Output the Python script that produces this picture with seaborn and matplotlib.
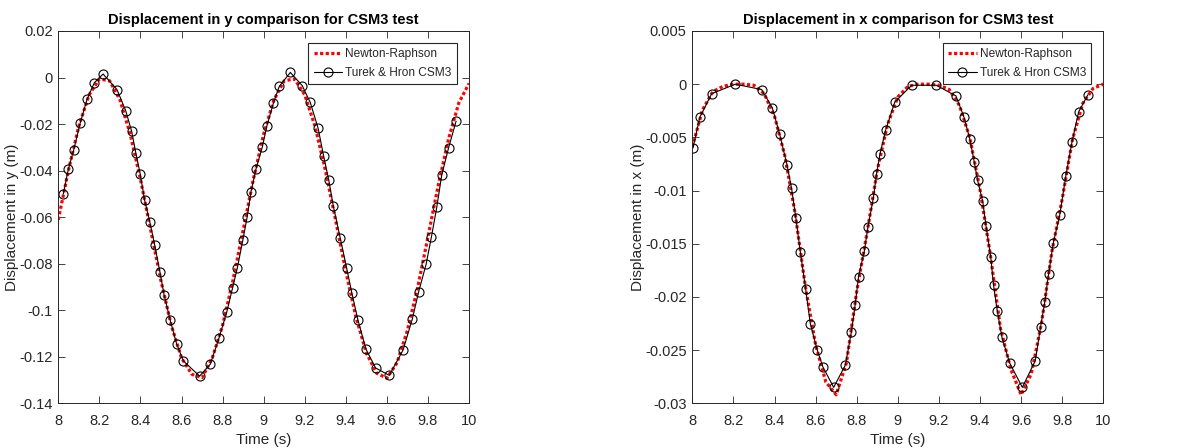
import numpy as np
import pandas as pd
import matplotlib
matplotlib.use("Agg")
import matplotlib.pyplot as plt
import seaborn as sns
from matplotlib.ticker import FuncFormatter, MultipleLocator

# ---------------- data ----------------
t_nr = [8.00, 8.05, 8.10, 8.15, 8.20, 8.25, 8.30, 8.35, 8.40, 8.45,
        8.50, 8.55, 8.60, 8.65, 8.70, 8.75, 8.80, 8.85, 8.90, 8.95,
        9.00, 9.05, 9.10, 9.15, 9.20, 9.25, 9.30, 9.35, 9.40, 9.45,
        9.50, 9.55, 9.60, 9.65, 9.70, 9.75, 9.80, 9.85, 9.90, 9.95, 10.00]

nr_y = [-0.0611, -0.0396, -0.0209, -0.0074, -0.0006, -0.0014, -0.0095, -0.0243, -0.0437, -0.0656,
        -0.0874, -0.1064, -0.1205, -0.1275, -0.1290, -0.1205, -0.1065, -0.0874, -0.0656, -0.0437,
        -0.0243, -0.0096, -0.0014, -0.0006, -0.0074, -0.0209, -0.0396, -0.0611, -0.0833, -0.1031,
        -0.1184, -0.1270, -0.1292, -0.1225, -0.1087, -0.0902, -0.0686, -0.0464, -0.0265, -0.0110, -0.0025]

nr_x = [-0.0059, -0.0024, -0.0007, -0.0002, 0.0000, 0.0000, -0.0001, -0.0009, -0.0030, -0.0067,
        -0.0121, -0.0190, -0.0245, -0.0280, -0.0292, -0.0262, -0.0195, -0.0140, -0.0081, -0.0038,
        -0.0012, -0.0002, 0.0000, 0.0000, -0.0001, -0.0005, -0.0020, -0.0050, -0.0099, -0.0160,
        -0.0230, -0.0268, -0.0292, -0.0272, -0.0224, -0.0157, -0.0108, -0.0052, -0.0018, -0.0004, 0.0000]

t_th_y = [8.024, 8.049, 8.075, 8.107, 8.140, 8.175, 8.218, 8.286, 8.328, 8.357,
          8.378, 8.399, 8.420, 8.446, 8.469, 8.495, 8.515, 8.545, 8.576, 8.609,
          8.688, 8.740, 8.782, 8.820, 8.849, 8.872, 8.899, 8.920, 8.938, 8.963,
          8.994, 9.015, 9.047, 9.076, 9.130, 9.188, 9.227, 9.265, 9.292, 9.317,
          9.339, 9.373, 9.404, 9.429, 9.459, 9.498, 9.545, 9.612, 9.679, 9.724,
          9.755, 9.791, 9.817, 9.843, 9.867, 9.901, 9.937]
th_y = [-0.0502, -0.0394, -0.0311, -0.0194, -0.0094, -0.0023, 0.0015, -0.0052, -0.0142, -0.0230,
        -0.0326, -0.0415, -0.0526, -0.0622, -0.0718, -0.0837, -0.0933, -0.1043, -0.1144, -0.1218,
        -0.1283, -0.1232, -0.1121, -0.1009, -0.0903, -0.0818, -0.0697, -0.0598, -0.0492, -0.0392,
        -0.0297, -0.0210, -0.0111, -0.0038, 0.0022, -0.0035, -0.0107, -0.0217, -0.0337, -0.0440,
        -0.0552, -0.0690, -0.0818, -0.0924, -0.1042, -0.1167, -0.1248, -0.1280, -0.1171, -0.1038,
        -0.0920, -0.0803, -0.0685, -0.0558, -0.0420, -0.0301, -0.0188]

t_th_x = [8.003, 8.037, 8.094, 8.209, 8.337, 8.389, 8.425, 8.461, 8.483, 8.504,
          8.526, 8.552, 8.574, 8.608, 8.636, 8.688, 8.745, 8.774, 8.792, 8.809,
          8.837, 8.855, 8.881, 8.897, 8.913, 8.941, 8.985, 9.067, 9.187, 9.283,
          9.322, 9.351, 9.372, 9.388, 9.413, 9.429, 9.452, 9.466, 9.484, 9.507,
          9.544, 9.606, 9.669, 9.695, 9.715, 9.734, 9.757, 9.788, 9.818, 9.848,
          9.880, 9.925]
th_x = [-0.0060, -0.0031, -0.0009, 0.0000, -0.0005, -0.0022, -0.0047, -0.0076, -0.0098, -0.0126,
        -0.0158, -0.0193, -0.0225, -0.0250, -0.0266, -0.0285, -0.0264, -0.0233, -0.0208, -0.0181,
        -0.0157, -0.0134, -0.0107, -0.0084, -0.0066, -0.0043, -0.0017, -0.0001, -0.0001, -0.0011,
        -0.0031, -0.0052, -0.0073, -0.0090, -0.0110, -0.0133, -0.0162, -0.0189, -0.0213, -0.0238,
        -0.0262, -0.0285, -0.0260, -0.0228, -0.0205, -0.0178, -0.0149, -0.0123, -0.0086, -0.0054,
        -0.0026, -0.0010]

titles = ["Displacement in y comparison for CSM3 test",
          "Displacement in x comparison for CSM3 test"]
ylabels = ["Displacement in y (m)", "Displacement in x (m)"]
xlabel = "Time (s)"
legend_labels = ["Newton-Raphson", "Turek & Hron CSM3"]

# ---------------- style ----------------
sns.set_theme(style="white")
plt.rcParams["font.family"] = ["Liberation Sans", "DejaVu Sans"]
plt.rcParams["axes.unicode_minus"] = False

W, H = 1188, 448
fig = plt.figure(figsize=(W / 100, H / 100), dpi=100)
ax_specs = [
    (58.3 / W, 1 - 403.3 / H, 410.7 / W, 372.3 / H),
    (692.3 / W, 1 - 403.3 / H, 411.0 / W, 372.3 / H),
]
panels = [
    (nr_y, t_th_y, th_y, (-0.14, 0.02), 0.02),
    (nr_x, t_th_x, th_x, (-0.03, 0.005), 0.005),
]
gray = "#262626"


def fmt(v, pos):
    if abs(v) < 1e-12:
        return "0"
    return f"{round(v, 8):g}"


for i, (nr, tt, th, ylim, ystep) in enumerate(panels):
    ax = fig.add_axes(ax_specs[i])
    df_nr = pd.DataFrame({"t": t_nr, "v": nr})
    df_th = pd.DataFrame({"t": tt, "v": th})
    sns.lineplot(data=df_nr, x="t", y="v", ax=ax, color="#ff0000",
                 linestyle=(0, (1.0, 0.75)),
                 linewidth=2.3, estimator=None, sort=False, label=legend_labels[0])
    sns.lineplot(data=df_th, x="t", y="v", ax=ax, color="black", linewidth=0.8,
                 marker="o", markersize=6.5, markerfacecolor="none",
                 markeredgecolor="black", markeredgewidth=0.8,
                 estimator=None, sort=False, label=legend_labels[1])
    ax.set_xlim(8, 10)
    ax.set_ylim(*ylim)
    ax.xaxis.set_major_locator(MultipleLocator(0.2))
    ax.yaxis.set_major_locator(MultipleLocator(ystep))
    ax.xaxis.set_major_formatter(FuncFormatter(fmt))
    ax.yaxis.set_major_formatter(FuncFormatter(fmt))
    ax.tick_params(axis="both", direction="in", length=5, width=0.6, top=True, right=True,
                   labelsize=10.5, colors=gray, labelcolor=gray,
                   bottom=True, left=True)
    ax.tick_params(axis="x", pad=8)
    ax.tick_params(axis="y", pad=4)
    for s in ax.spines.values():
        s.set_color(gray)
        s.set_linewidth(0.7)
        s.set_visible(True)
    ax.set_title(titles[i], fontsize=10.5, fontweight="bold", color="black", pad=5)
    ax.set_xlabel(xlabel, fontsize=11, color=gray, labelpad=3)
    ax.set_ylabel(ylabels[i], fontsize=11, color=gray, labelpad=0)
    leg = ax.legend(loc="upper right", fontsize=8.6, frameon=True, fancybox=False,
                    edgecolor=gray, framealpha=1, borderpad=0.45, handlelength=2.4,
                    handletextpad=0.25, labelspacing=0.55, borderaxespad=1.0)
    leg.get_frame().set_linewidth(0.8)

fig.savefig("out.png", dpi=100, facecolor="white")
